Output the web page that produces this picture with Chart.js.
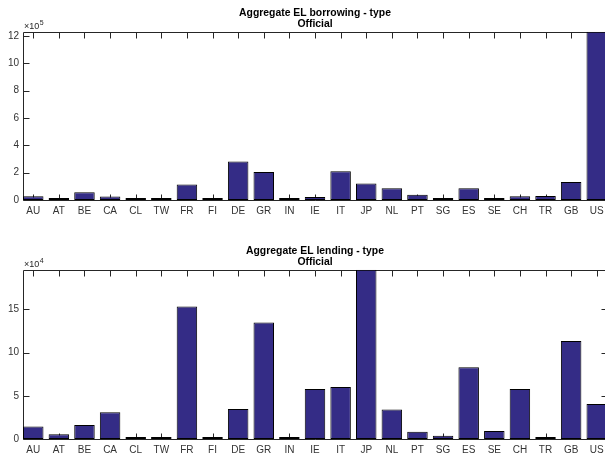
<!DOCTYPE html>
<html>
<head>
<meta charset="utf-8">
<script src="https://cdn.jsdelivr.net/npm/chart.js@4/dist/chart.umd.min.js"></script>
<style>
  html, body { margin: 0; padding: 0; background: #fff; }
  body { width: 605px; height: 456px; overflow: hidden; position: relative; }
  canvas { position: absolute; left: 0; }
  #c1 { top: 0; }
  #c2 { top: 238px; }
</style>
</head>
<body>
<canvas id="c1" width="612" height="228"></canvas>
<canvas id="c2" width="612" height="218"></canvas>
<script>
// ---- data ----
const categories = ['AU','AT','BE','CA','CL','TW','FR','FI','DE','GR','IN','IE','IT','JP','NL','PT','SG','ES','SE','CH','TR','GB','US'];
// borrowing, in units of 1e5
const borrowingExp = 5;
const borrowing = [0.27,0.15,0.56,0.25,0.05,0.12,1.14,0.04,2.81,2.04,0.12,0.22,2.11,1.21,0.85,0.39,0.12,0.85,0.05,0.27,0.29,1.31,12.3];
const borrowingTicks = [0,2,4,6,8,10,12];
// lending, in units of 1e4
const lendingExp = 4;
const lending = [1.46,0.54,1.61,3.11,0.05,0.19,15.34,0.05,3.46,13.5,0.05,5.8,6.03,19.6,3.42,0.84,0.38,8.3,0.92,5.8,0.05,11.34,4.04];
const lendingTicks = [0,5,10,15];

const titles1 = ['Aggregate EL borrowing - type', 'Official'];
const titles2 = ['Aggregate EL lending - type', 'Official'];

const AXIS = '#262626';
const BAR = '#342C86';
const FONT = '"Liberation Sans", Arial, Helvetica, sans-serif';

const axesPlugin = {
  id: 'matlabAxes',
  beforeDatasetsDraw(chart) {
    const {ctx, chartArea: a, scales: {x, y}} = chart;
    const L = Math.round(a.left) + 0.5, R = Math.round(a.right) + 0.5;
    const T = Math.round(a.top) + 0.5, B = Math.round(a.bottom) + 0.5;
    ctx.save();
    ctx.strokeStyle = AXIS;
    ctx.lineWidth = 1;
    ctx.beginPath();
    ctx.rect(L, T, R - L, B - T);
    const len = 6;
    y.ticks.forEach(t => {
      const py = Math.round(y.getPixelForValue(t.value)) + 0.5;
      ctx.moveTo(L, py); ctx.lineTo(L + len, py);
      ctx.moveTo(R, py); ctx.lineTo(R - len, py);
    });
    categories.forEach((c, i) => {
      const px = Math.round(x.getPixelForValue(i)) + 0.5;
      ctx.moveTo(px, T); ctx.lineTo(px, T + len);
      ctx.moveTo(px, B); ctx.lineTo(px, B - len);
    });
    ctx.stroke();
    ctx.restore();
  },
  afterDraw(chart, args, opts) {
    const {ctx, chartArea: a} = chart;
    ctx.save();
    ctx.fillStyle = AXIS;
    ctx.textBaseline = 'alphabetic';
    ctx.textAlign = 'left';
    ctx.font = '9px ' + FONT;
    const base = a.top - 3;
    ctx.fillText('\u00d710', a.left + 1, base);
    const w = ctx.measureText('\u00d710').width;
    ctx.font = '7px ' + FONT;
    ctx.fillText(String(opts.exp), a.left + 1 + w + 0.5, base - 4);
    ctx.restore();
  }
};

function makeChart(id, values, ticksList, exp, titleLines, xAxisHeight) {
  const yMax = Math.max(...values);
  return new Chart(document.getElementById(id), {
    type: 'bar',
    data: {
      datasets: [{
        data: values.map((v, i) => ({x: i, y: v})),
        backgroundColor: BAR,
        borderColor: '#000',
        borderWidth: 1,
        borderSkipped: false,
        minBarLength: 2,
        barPercentage: 0.8,
        categoryPercentage: 1.0
      }]
    },
    options: {
      responsive: false,
      animation: false,
      devicePixelRatio: 1,
      layout: { padding: { left: 0, right: 5, top: 0, bottom: 0 } },
      plugins: {
        legend: { display: false },
        tooltip: { enabled: false },
        title: {
          display: true,
          text: titleLines,
          fullSize: false,
          color: '#000',
          font: { family: FONT, size: 10.4, weight: 'bold', lineHeight: 1.06 },
          padding: { top: 7.5, bottom: 2.2 }
        },
        matlabAxes: { exp: exp }
      },
      scales: {
        x: {
          type: 'linear',
          min: -0.4,
          max: categories.length - 1 + 0.4,
          offset: false,
          grid: { display: false, drawTicks: false },
          border: { display: false },
          ticks: {
            stepSize: 1,
            includeBounds: false,
            autoSkip: false,
            maxRotation: 0,
            padding: 5,
            color: '#333',
            font: { family: FONT, size: 10 },
            callback: v => (Number.isInteger(v) && categories[v] !== undefined) ? categories[v] : ''
          },
          afterFit: s => { s.height = xAxisHeight; }
        },
        y: {
          min: 0,
          max: yMax,
          grid: { display: false, drawTicks: false },
          border: { display: false },
          afterBuildTicks: s => { s.ticks = ticksList.map(v => ({value: v})); },
          ticks: {
            padding: 4,
            color: '#333',
            font: { family: FONT, size: 10 },
            callback: v => String(v)
          },
          afterFit: s => { s.width = 23; }
        }
      }
    },
    plugins: [axesPlugin]
  });
}

makeChart('c1', borrowing, borrowingTicks, borrowingExp, titles1, 28);
makeChart('c2', lending, lendingTicks, lendingExp, titles2, 17);
</script>
</body>
</html>
